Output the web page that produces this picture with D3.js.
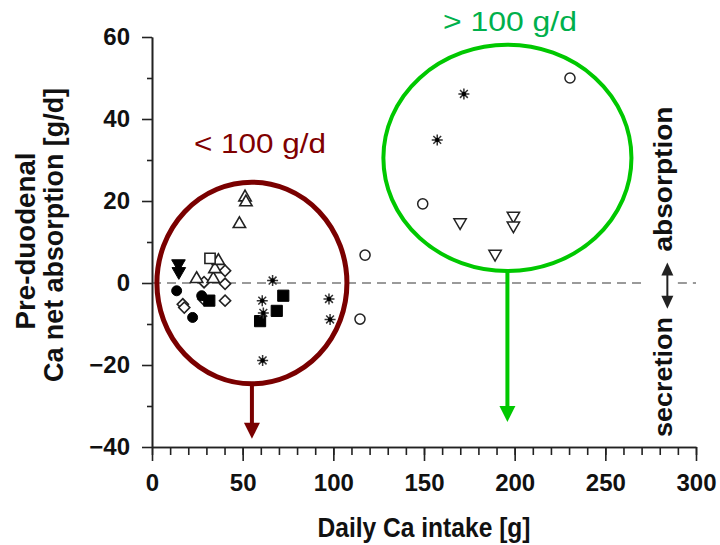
<!DOCTYPE html>
<html>
<head>
<meta charset="utf-8">
<script src="https://cdn.jsdelivr.net/npm/d3@7"></script>
<style>
  html, body { margin: 0; padding: 0; background: #fff; }
  svg { display: block; font-family: "Liberation Sans", Arial, Helvetica, sans-serif; }
</style>
</head>
<body>
<svg id="chart" width="720" height="545"></svg>
<script>
// Daily Ca intake [g] (x) vs. pre-duodenal Ca net absorption [g/d] (y), one array per marker style
const filledCircles   = [[13.6, -1.9], [22.4, -8.4], [27.4, -3.1]];
const filledSquares   = [[31.6, -4.3], [59.6, -9.3], [68.8, -6.8], [72.4, -3.1]];
const filledTriDown   = [[14.6, 4.7], [14.8, 2.8]];
const openDiamonds    = [[17.0, -5.2], [17.8, -6.0], [28.3, -3.9], [28.7, 0.2], [40.3, 3.0], [40.3, -0.2], [40.3, -4.3]];
const openSquares     = [[32.0, 6.0]];
const openTriUp       = [[24.6, 1.0], [33.8, 1.0], [34.7, 3.4], [36.6, 5.4], [48.2, 14.4], [51.3, 20.9], [51.8, 19.7]];
const openTriDown     = [[169.9, 14.8], [189.2, 7.1], [199.3, 16.4], [199.3, 14.0]];
const openCircles     = [[114.7, -8.8], [117.5, 6.8], [149.3, 19.3], [230.5, 50.0]];
const asterisks       = [[60.8, -4.3], [61.4, -7.3], [61.0, -18.9], [66.5, 0.6], [97.6, -3.9], [98.2, -8.9], [157.3, 34.9], [172.0, 46.1]];

// Axis tick values
const xTickValues = [0, 50, 100, 150, 200, 250, 300];
const xMinorTicks = d3.range(0, 301, 10);
const yTickValues = [-40, -20, 0, 20, 40, 60];
const yMinorTicks = [-30, -10, 10, 30, 50];

// Intake groups: ellipse centre / radii in data units
const groupLow  = { label: "< 100 g/d", cx: 55.1, cy: 0.0, rx: 52.4, ry: 24.6, arrowTo: -38.0 };
const groupHigh = { label: "> 100 g/d", cx: 196.0, cy: 30.5, rx: 68.4, ry: 27.6, arrowTo: -33.9 };

const svg = d3.select("#chart");
const x = d3.scaleLinear().domain([0, 300]).range([152, 696]);
const y = d3.scaleLinear().domain([-40, 60]).range([447, 37]);

const AXIS = "#222";
const FONT_BOLD = "bold";

// ---- zero reference line (interrupted around the direction arrow)
const zeroSegs = [[0, 271], [290, 300]];
svg.append("g").selectAll("line").data(zeroSegs).join("line")
  .attr("x1", d => x(d[0])).attr("x2", d => x(d[1]))
  .attr("y1", y(0)).attr("y2", y(0))
  .attr("stroke", "#9a9a9a").attr("stroke-width", 2)
  .attr("stroke-dasharray", "9,6");

// ---- axes
function styleAxis(g) {
  g.select(".domain").attr("stroke", AXIS).attr("stroke-width", 1.6);
  g.selectAll(".tick line").attr("stroke", AXIS).attr("stroke-width", 1.6);
  g.selectAll(".tick text").attr("fill", "#111").attr("font-size", 24)
    .attr("font-weight", FONT_BOLD).attr("font-family", "Liberation Sans, Arial, sans-serif");
}

const xAxisG = svg.append("g").attr("transform", `translate(0,${y(-40)})`);
xAxisG.append("g").call(d3.axisBottom(x).tickValues(xMinorTicks).tickSize(8).tickSizeOuter(0).tickFormat(""))
  .call(styleAxis);
xAxisG.append("g").call(d3.axisBottom(x).tickValues(xTickValues).tickSize(14).tickSizeOuter(0).tickPadding(13))
  .call(styleAxis);

const yAxisG = svg.append("g").attr("transform", `translate(${x(0)},0)`);
yAxisG.append("g").call(d3.axisLeft(y).tickValues(yMinorTicks).tickSize(5).tickSizeOuter(0).tickFormat(""))
  .call(styleAxis);
yAxisG.append("g").call(d3.axisLeft(y).tickValues(yTickValues).tickSize(10).tickSizeOuter(0).tickPadding(12)
  .tickFormat(d => d < 0 ? "\u2212" + Math.abs(d) : d))
  .call(styleAxis);

// ---- axis titles
svg.append("text")
  .attr("x", (x(0) + x(300)) / 2).attr("y", 537)
  .attr("text-anchor", "middle").attr("font-size", 27).attr("font-weight", FONT_BOLD)
  .attr("fill", "#111").attr("textLength", 213).attr("lengthAdjust", "spacingAndGlyphs")
  .text("Daily Ca intake [g]");

const yTitle = [
  { text: "Pre-duodenal", bx: 35, cy: 241, len: 177 },
  { text: "Ca net absorption [g/d]", bx: 63, cy: 235, len: 294 }
];
svg.append("g").selectAll("text").data(yTitle).join("text")
  .attr("transform", d => `translate(${d.bx},${d.cy}) rotate(-90)`)
  .attr("text-anchor", "middle").attr("font-size", 27).attr("font-weight", FONT_BOLD)
  .attr("fill", "#111").attr("textLength", d => d.len).attr("lengthAdjust", "spacingAndGlyphs")
  .text(d => d.text);

// ---- absorption / secretion direction marker
const dirX = 284.2;
function arrowHead(px, py, dir, len, half) {
  // dir = +1 pointing down, -1 pointing up
  return `M${px},${py}L${px - half},${py - dir * len}L${px + half},${py - dir * len}Z`;
}
svg.append("line")
  .attr("x1", x(dirX)).attr("x2", x(dirX))
  .attr("y1", y(5.0) + 10).attr("y2", y(-6.3) - 10)
  .attr("stroke", "#222").attr("stroke-width", 2);
svg.append("path").attr("d", arrowHead(x(dirX), y(5.0), -1, 13, 6)).attr("fill", "#222");
svg.append("path").attr("d", arrowHead(x(dirX), y(-6.3), 1, 13, 6)).attr("fill", "#222");

const sideLabels = [
  { text: "absorption", cy: 179, len: 145 },
  { text: "secretion", cy: 377, len: 120 }
];
svg.append("g").selectAll("text").data(sideLabels).join("text")
  .attr("transform", d => `translate(672,${d.cy}) rotate(-90)`)
  .attr("text-anchor", "middle").attr("font-size", 26).attr("font-weight", FONT_BOLD)
  .attr("fill", "#111").attr("textLength", d => d.len).attr("lengthAdjust", "spacingAndGlyphs")
  .text(d => d.text);

// ---- data markers
const marks = svg.append("g");
function plotSymbols(data, type, size, fill, stroke, sw, rot) {
  const sym = d3.symbol().type(type).size(size);
  marks.append("g").selectAll("path").data(data).join("path")
    .attr("d", sym)
    .attr("transform", d => `translate(${x(d[0])},${y(d[1])}) rotate(${rot || 0})`)
    .attr("fill", fill).attr("stroke", stroke).attr("stroke-width", sw);
}

plotSymbols(openDiamonds, d3.symbolSquare, 62, "#fff", "#222", 1.6, 45);
plotSymbols(openTriUp, d3.symbolTriangle, 66, "#fff", "#222", 1.6, 0);
plotSymbols(openSquares, d3.symbolSquare, 105, "#fff", "#222", 1.6, 0);
plotSymbols(openTriDown, d3.symbolTriangle, 66, "#fff", "#222", 1.5, 180);
plotSymbols(openCircles, d3.symbolCircle, 80, "#fff", "#222", 1.5, 0);
plotSymbols(filledTriDown, d3.symbolTriangle, 80, "#000", "#000", 1, 180);
plotSymbols(filledCircles, d3.symbolCircle, 78, "#000", "#000", 1, 0);
plotSymbols(filledSquares, d3.symbolSquare, 125, "#000", "#000", 1, 0);

// eight-ray asterisk
const astPath = "M-5.5,0L5.5,0M0,-5.5L0,5.5M-3.9,-3.9L3.9,3.9M-3.9,3.9L3.9,-3.9";
const astG = marks.append("g").selectAll("g").data(asterisks).join("g")
  .attr("transform", d => `translate(${x(d[0])},${y(d[1])})`);
astG.append("path").attr("d", astPath).attr("stroke", "#333").attr("stroke-width", 1.5).attr("fill", "none");
astG.append("circle").attr("r", 2.2).attr("fill", "#000");

// ---- intake group ellipses, arrows and labels
function drawGroup(gp, color, textColor, sw, labelPos) {
  const g = svg.append("g");
  g.append("ellipse")
    .attr("cx", x(gp.cx)).attr("cy", y(gp.cy))
    .attr("rx", x(gp.cx + gp.rx) - x(gp.cx)).attr("ry", y(gp.cy) - y(gp.cy + gp.ry))
    .attr("fill", "none").attr("stroke", color).attr("stroke-width", sw);
  const ax = x(gp.cx), top = y(gp.cy - gp.ry), tip = y(gp.arrowTo);
  g.append("line").attr("x1", ax).attr("x2", ax).attr("y1", top).attr("y2", tip - 12)
    .attr("stroke", color).attr("stroke-width", 4);
  g.append("path").attr("d", arrowHead(ax, tip, 1, 16, 8)).attr("fill", color);
  g.append("text")
    .attr("x", labelPos.cx).attr("y", labelPos.by)
    .attr("text-anchor", "middle").attr("font-size", 28)
    .attr("fill", textColor).attr("textLength", labelPos.len).attr("lengthAdjust", "spacingAndGlyphs")
    .text(gp.label);
}
drawGroup(groupLow, "#7a0000", "#800000", 5, { cx: 260, by: 153, len: 132 });
drawGroup(groupHigh, "#00c800", "#00b04c", 4, { cx: 510, by: 31, len: 134 });
</script>
</body>
</html>
